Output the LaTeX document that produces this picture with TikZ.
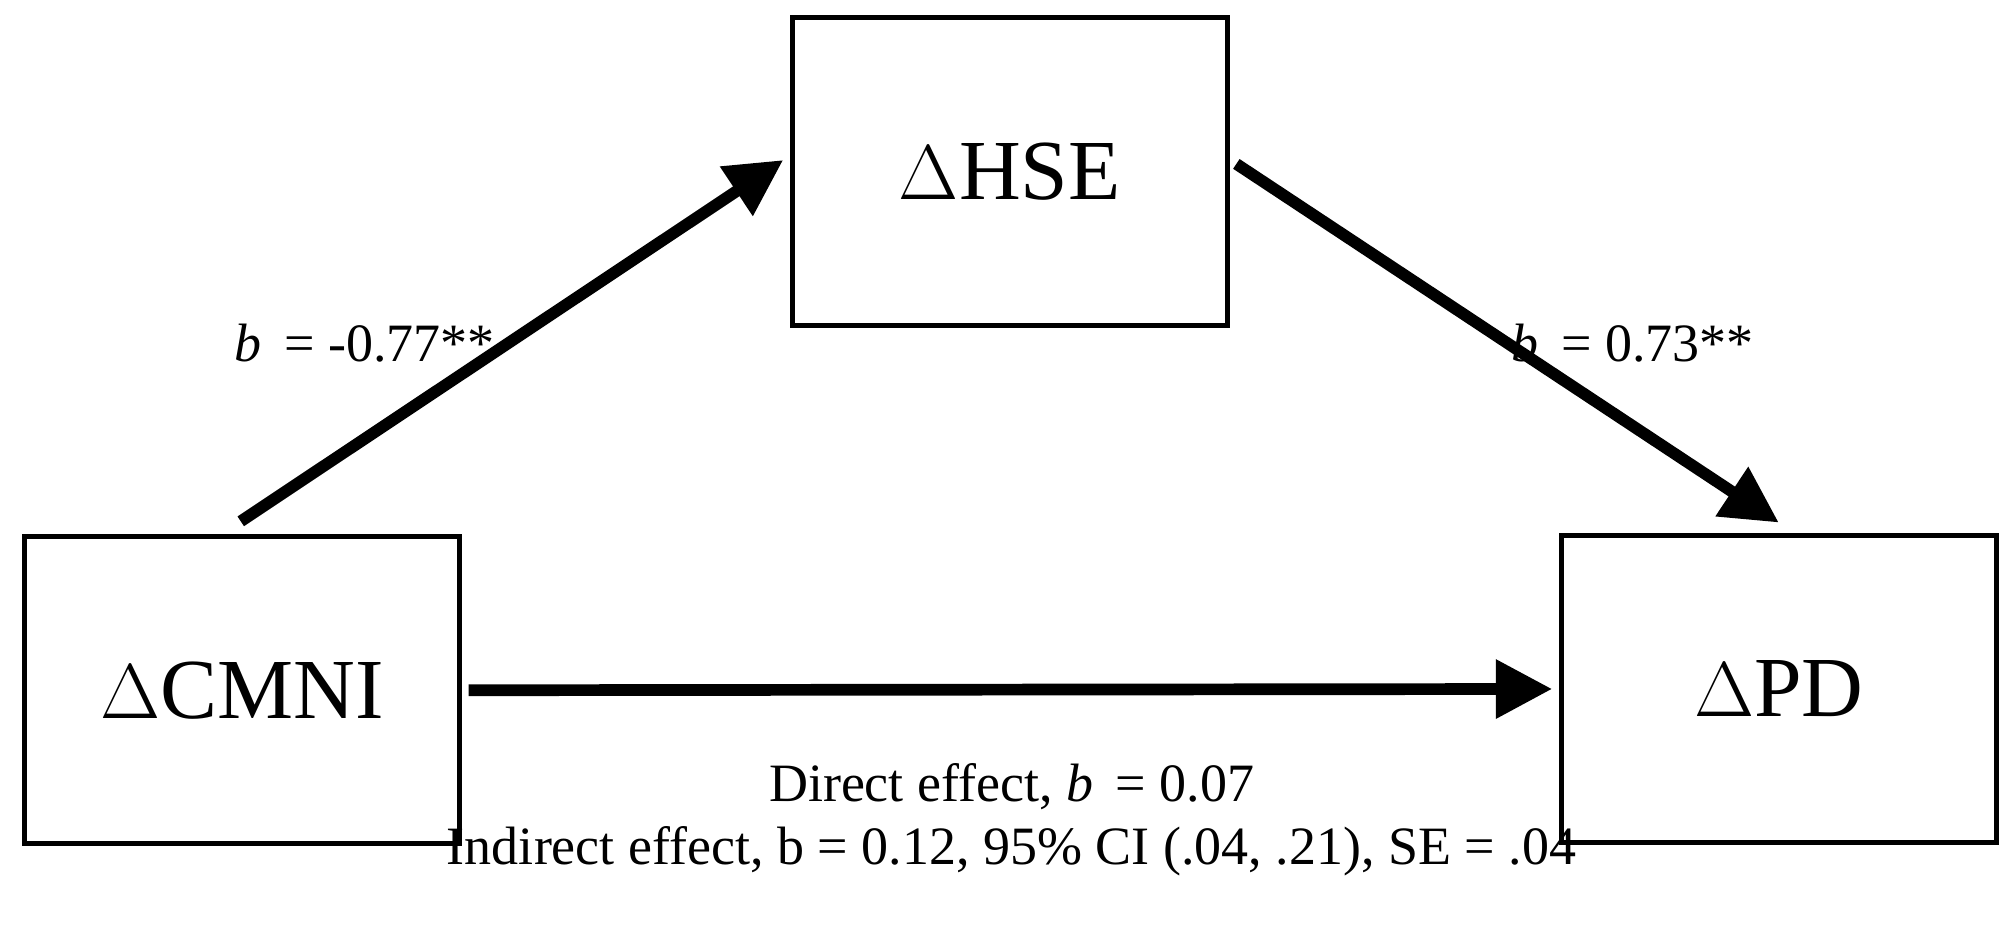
\documentclass[tikz,border=0pt]{standalone}
\usepackage{fontspec}
\setmainfont{Liberation Serif}
\usetikzlibrary{arrows.meta, positioning}
\tikzset{
	var/.style={draw, line width=1.1pt, minimum width=3.4cm, minimum height=2.4cm, font=\fontsize{19}{22}\selectfont},
	path/.style={line width=2.6pt, -{Triangle[length=0.44cm,width=0.44cm]}},
	coef/.style={font=\fontsize{12}{14}\selectfont}}
\begin{document}
\begin{tikzpicture}
	\useasboundingbox (0,0) rectangle (15.68,7.27);
	%boxes
	\node[var] (cmni) at (1.89,1.88) {$\Delta$CMNI};
	\node[var] (hse) at (7.885,5.93) {$\Delta$HSE};
	\node[var] (pd) at (13.89,1.89) {$\Delta$PD};
	%paths
	\draw[path] ([xshift=-0.01cm,yshift=0.1cm]cmni.north) -- ([xshift=-0.05cm,yshift=0.09cm]hse.west);
	\draw[path] ([xshift=0.05cm,yshift=0.06cm]hse.east) -- ([yshift=0.08cm]pd.north);
	\draw[path] ([xshift=0.05cm]cmni.east) -- ([xshift=-0.05cm]pd.west);
	%labels
	\node[coef] (l1) at (2.85,4.59) {\textit{b}\, = -0.77**};
	\node[coef] (l2) at (12.75,4.59) {\textit{b}\, = 0.73**};
	\node[coef] (d) at (7.9,1.13) {Direct effect, \textit{b}\, = 0.07};
	\node[coef] (i) at (7.9,0.62) {Indirect effect, b = 0.12, 95\% CI (.04, .21), SE = .04};
\end{tikzpicture}
\end{document}
